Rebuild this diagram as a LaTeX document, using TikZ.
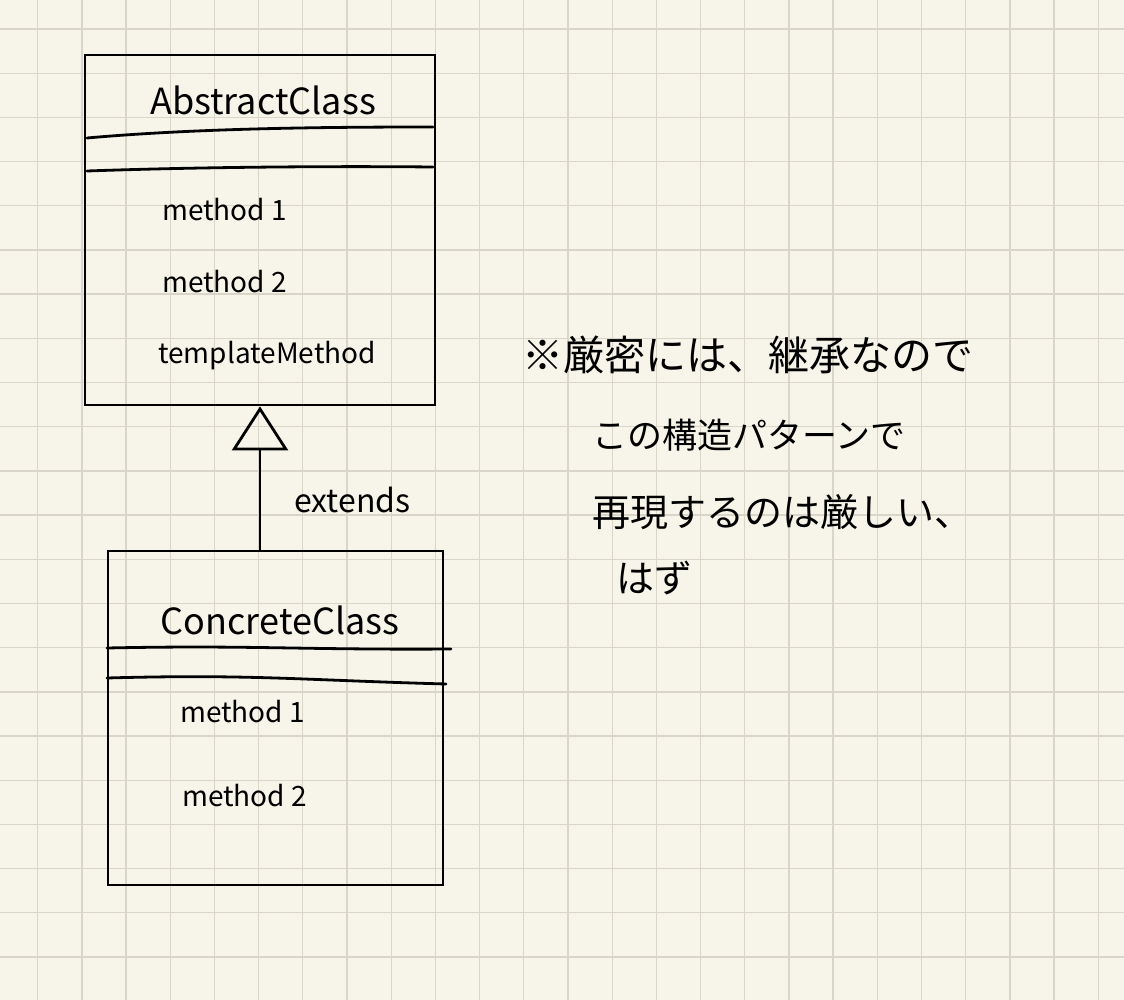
\documentclass[tikz,border=0pt]{standalone}
\usepackage{fontspec}
\setmainfont{Noto Sans CJK JP}
\usepackage{xcolor}
\usetikzlibrary{positioning,arrows.meta}
\definecolor{paper}{HTML}{F7F5EA}
\definecolor{gridline}{HTML}{D9D6C9}

\begin{document}
\begin{tikzpicture}[x=1pt,y=-1pt,
		umlbox/.style={draw, line width=2.8pt, inner sep=0},
		sepline/.style={line width=2.8pt, line cap=round},
		classname/.style={font=\fontsize{36}{42}\selectfont, inner sep=0},
		methodtext/.style={anchor=west, font=\fontsize{28}{34}\selectfont, inner sep=0},
		notetext/.style={anchor=west, font=\fontsize{38}{44}\selectfont, inner sep=0}]
	\fill[paper] (0,0) rectangle (1124,1000);
	\useasboundingbox (0,0) rectangle (1124,1000);
	\foreach \i in {0,...,24}
		\draw[gridline, line width=1.3pt] ({37.7+44.19*\i},0) -- ++(0,1000);
	\foreach \j in {0,...,21}
		\draw[gridline, line width=1.3pt] (0,{29+44.19*\j}) -- ++(1124,0);

	\node[umlbox, minimum width=350pt, minimum height=350pt] (abstract) at (260,230) {};
	\node[umlbox, minimum width=335pt, minimum height=334pt] (concrete) at (275.5,718) {};

	\draw[sepline] (87,138) .. controls (200,128) and (330,127) .. (433,127);
	\draw[sepline] (87,171) .. controls (200,167) and (330,166) .. (433,167);
	\draw[sepline] (107,648) .. controls (250,645) and (300,650) .. (451,649);
	\draw[sepline] (107,678) .. controls (250,674) and (300,680) .. (446,684);

	\node[classname] (abstractname) at (263,100) {AbstractClass};
	\node[methodtext] (amethodA) at (162,210) {method 1};
	\node[methodtext] (amethodB) at (162,282) {method 2};
	\node[methodtext] (atemplate) at (158,356) {templateMethod};

	\node[classname] (concretename) at (280,620) {ConcreteClass};
	\node[methodtext] (cmethodA) at (180,712) {method 1};
	\node[methodtext] (cmethodB) at (182,796) {method 2};

	\draw[line width=2.8pt, -{Triangle[open, length=44pt, width=56pt]}] (abstract.south |- concrete.north) -- (abstract.south);
	\node[anchor=west, font=\fontsize{32}{38}\selectfont, inner sep=0] (extlabel) at (294,500) {extends};

	\node[notetext, font=\fontsize{41}{46}\selectfont] (noteA) at (522,355) {※厳密には、継承なので};
	\node[notetext, font=\fontsize{35}{40}\selectfont] (noteB) at (592,435) {この構造パターンで};
	\node[notetext] (noteC) at (592,512) {再現するのは厳しい、};
	\node[notetext] (noteD) at (616,578) {はず};
\end{tikzpicture}
\end{document}
